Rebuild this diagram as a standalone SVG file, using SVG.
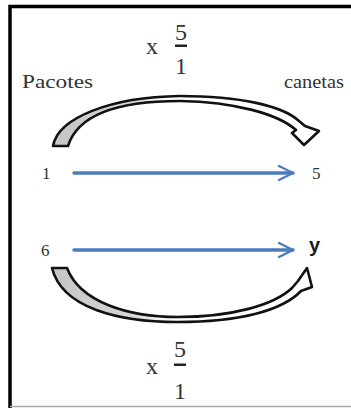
<svg xmlns="http://www.w3.org/2000/svg" width="351" height="408" viewBox="0 0 351 408">
<defs>
<style>
.t{font-family:"Liberation Serif","Times New Roman",serif;fill:#333}
.band{stroke:#111;stroke-width:2.6;stroke-linejoin:round}
.bar{fill:#222}
.blue{stroke:#4a7ebb;stroke-width:3.5;fill:none;stroke-linecap:round}
</style>
<linearGradient id="g1" gradientUnits="userSpaceOnUse" x1="50" y1="0" x2="320" y2="0">
<stop offset="0" stop-color="#c4c4c4"/>
<stop offset="0.3" stop-color="#d6d6d6"/>
<stop offset="0.45" stop-color="#fff"/>
<stop offset="1" stop-color="#fff"/>
</linearGradient>
<marker id="ah" viewBox="0 0 10 10" refX="9" refY="5" markerWidth="5" markerHeight="6" orient="auto" markerUnits="strokeWidth">
<path d="M1,1 L9,5 L1,9" fill="none" stroke="#4a7ebb" stroke-width="1.3" stroke-linecap="round" stroke-linejoin="round"/>
</marker>
</defs>
<rect width="351" height="408" fill="#fff"/>
<path d="M10,408 V6.5 H351" fill="none" stroke="#000" stroke-width="3.5"/>
<line x1="10" y1="406.5" x2="351" y2="406.5" stroke="#aaa" stroke-width="1.5"/>

<g id="top-label">
<text class="t" x="146" y="54" font-size="24">x</text>
<text class="t" x="181" y="40" font-size="24" text-anchor="middle">5</text>
<path class="bar" d="M175,44.5 H187 V47 H175 Z"/>
<text class="t" x="181" y="74" font-size="24" text-anchor="middle">1</text>
</g>
<g id="pacotes"><text class="t" x="22" y="88" font-size="19" textLength="71" lengthAdjust="spacingAndGlyphs">Pacotes</text></g>
<g id="canetas"><text class="t" x="284" y="88" font-size="19" textLength="60" lengthAdjust="spacingAndGlyphs">canetas</text></g>

<g id="top-curve">
<path class="band" fill="url(#g1)" d="M53,146 C58,118 110,97 180,96 C240,96 283,106 299,121 L305,126 L319,131 L304,145 L292,133 L296,130 C278,114 235,102 180,101 C120,101 78,114 68,146 Z"/>
</g>

<g id="n1"><text class="t" x="42" y="179" font-size="17">1</text></g>
<g id="n5"><text class="t" x="312" y="179" font-size="17">5</text></g>
<g id="n6"><text class="t" x="41" y="256" font-size="17">6</text></g>
<g id="ny"><text x="309" y="252" font-size="20" font-weight="bold" font-family="'Liberation Sans',Arial,sans-serif" fill="#1a1a1a">y</text></g>

<g id="bottom-curve">
<path class="band" fill="url(#g1)" d="M52,268 L67,268 C80,302 128,317 178,317 C232,317 274,305 292,288 L298,281 L307,268 L312,287 L301,291 C282,311 238,322 178,322 C118,322 62,308 52,268 Z"/>
</g>

<g id="bottom-label">
<text class="t" x="146" y="374" font-size="24">x</text>
<text class="t" x="180" y="357" font-size="24" text-anchor="middle">5</text>
<path class="bar" d="M174,363.5 H186 V366 H174 Z"/>
<text class="t" x="180" y="399" font-size="24" text-anchor="middle">1</text>
</g>

<g id="connectors">
<line class="blue" x1="74" y1="173" x2="293" y2="173" marker-end="url(#ah)"/>
<line class="blue" x1="74" y1="250" x2="293" y2="250" marker-end="url(#ah)"/>
</g>
</svg>
